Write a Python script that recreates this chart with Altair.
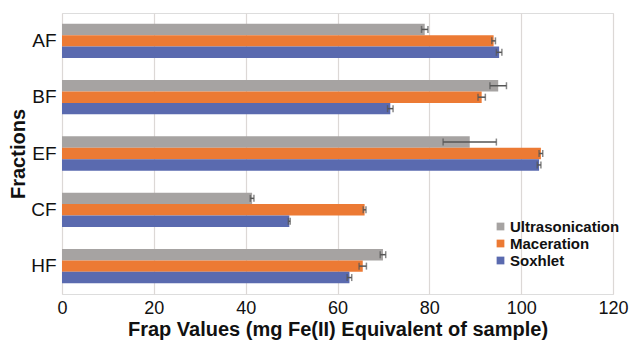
import altair as alt
import pandas as pd

fractions = ["AF", "BF", "EF", "CF", "HF"]
methods = ["Ultrasonication", "Maceration", "Soxhlet"]
colors = ["#A6A3A2", "#EC7A34", "#5A6AAF"]

ultra = [79.0, 95.0, 88.8, 41.4, 69.9]
ultra_err = [0.7, 1.8, 5.8, 0.4, 0.6]
macer = [94.0, 91.4, 104.3, 65.9, 65.5]
macer_err = [0.4, 0.8, 0.4, 0.3, 0.8]
soxh = [95.2, 71.5, 103.9, 49.5, 62.6]
soxh_err = [0.6, 0.6, 0.4, 0.2, 0.5]

rows = []
for m, vals, errs in [("Ultrasonication", ultra, ultra_err),
                      ("Maceration", macer, macer_err),
                      ("Soxhlet", soxh, soxh_err)]:
    for f, v, e in zip(fractions, vals, errs):
        rows.append({"fraction": f, "method": m, "value": v,
                     "lo": v - e, "hi": v + e})
df = pd.DataFrame(rows)

FONT = "Liberation Sans"

y = alt.Y("fraction:N", sort=fractions,
          scale=alt.Scale(paddingInner=0.39, paddingOuter=0.19),
          axis=alt.Axis(title="Fractions", labelFontSize=19, titleFontSize=20,
                        titleFontWeight="bold", labelColor="#111", titleColor="#111",
                        ticks=False, domain=False, labelPadding=6, titlePadding=2,
                        labelFont=FONT, titleFont=FONT))
yoff = alt.YOffset("method:N", sort=methods,
                   scale=alt.Scale(paddingInner=0, paddingOuter=0))

bars = alt.Chart(df).mark_bar().encode(
    x=alt.X("value:Q", scale=alt.Scale(domain=[0, 120]),
            axis=alt.Axis(title="Frap Values (mg Fe(II) Equivalent of sample)",
                          values=[0, 20, 40, 60, 80, 100, 120],
                          labelFontSize=18, titleFontSize=20, titleFontWeight="bold",
                          labelColor="#111", titleColor="#111",
                          labelFont=FONT, titleFont=FONT, labelFlush=False,
                          ticks=False, domain=False, grid=True,
                          gridColor="#DCD8D6", gridWidth=1.2,
                          labelPadding=5, titlePadding=2)),
    y=y,
    yOffset=yoff,
    color=alt.Color("method:N", sort=methods,
                    scale=alt.Scale(domain=methods, range=colors),
                    legend=alt.Legend(title=None, orient="none", legendX=431, legendY=206,
                                      symbolType="square", symbolSize=60,
                                      labelFontSize=15, labelFontWeight="bold",
                                      labelFont=FONT, labelColor="#111",
                                      rowPadding=1, symbolStrokeWidth=0,
                                      labelOffset=2)),
)

rule = alt.Chart(df).mark_rule(color="#555555", strokeWidth=1.5).encode(
    x="lo:Q", x2="hi:Q", y=y, yOffset=yoff)

caps_lo = alt.Chart(df).mark_tick(color="#555555", thickness=1.5, size=7, orient="vertical").encode(
    x="lo:Q", y=y, yOffset=yoff)
caps_hi = alt.Chart(df).mark_tick(color="#555555", thickness=1.5, size=7, orient="vertical").encode(
    x="hi:Q", y=y, yOffset=yoff)

chart = alt.layer(bars, rule, caps_lo, caps_hi).properties(
    width=551, height=281,
    autosize=alt.AutoSizeParams(type="none"),
    padding={"left": 54, "top": 5, "right": 17, "bottom": 47},
).configure_view(stroke=None).configure(background="white")

chart.save("out.html", embed_options={"renderer": "svg", "actions": False})
